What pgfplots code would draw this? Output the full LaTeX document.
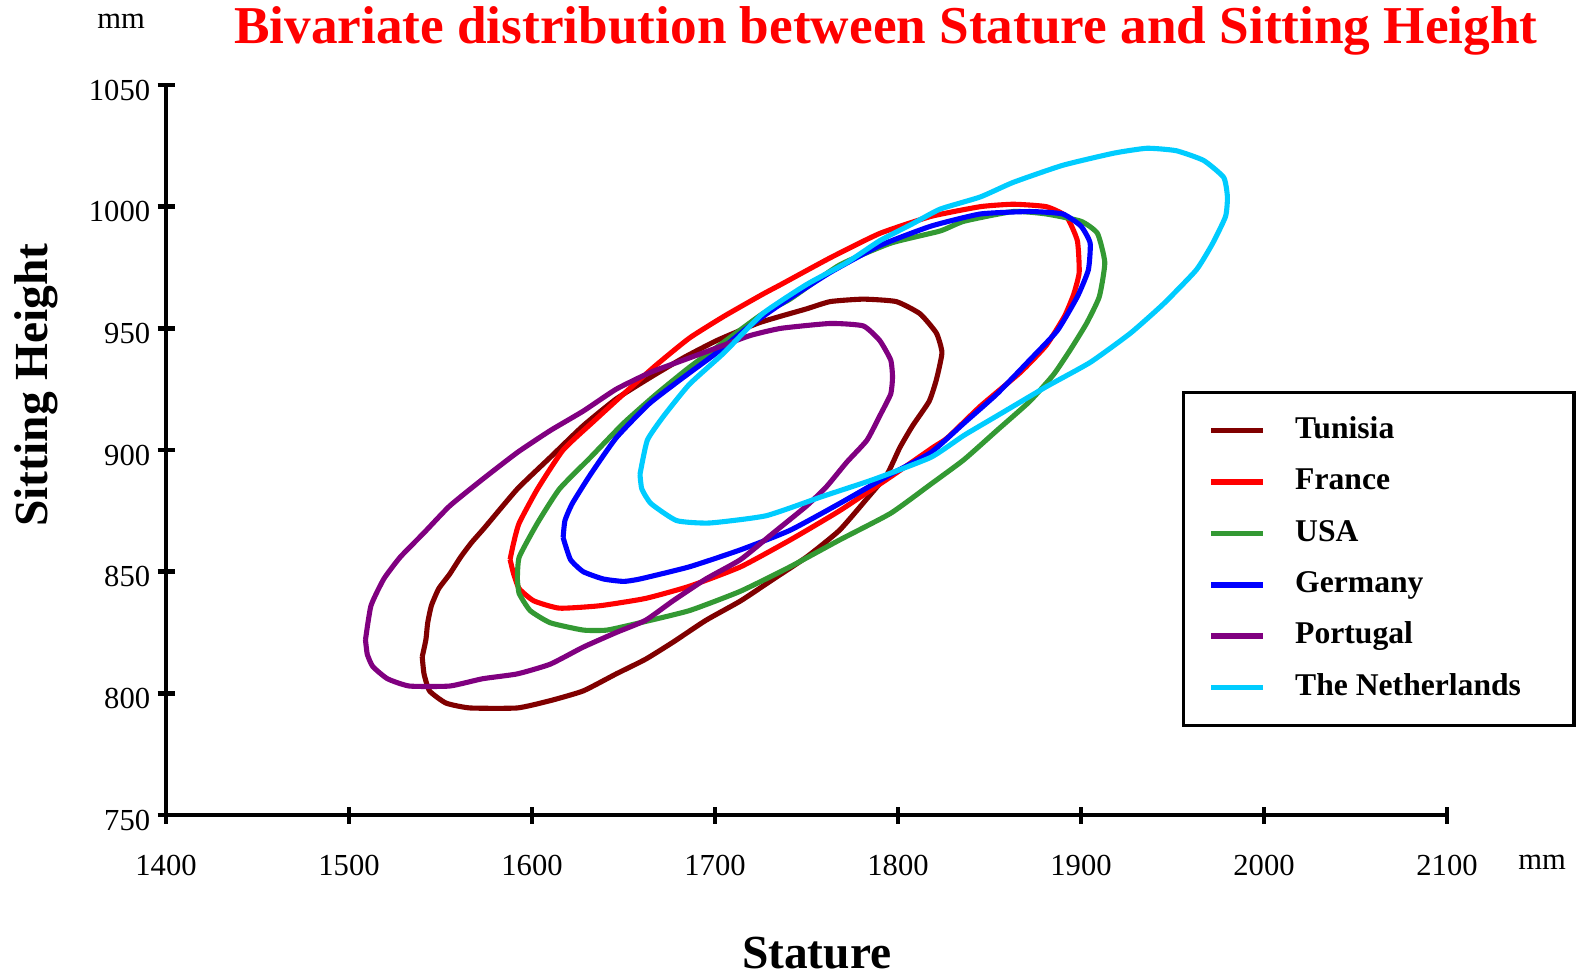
\documentclass[border=0pt]{standalone}
\usepackage{fontspec}
\setmainfont{Liberation Serif}
\usepackage{pgfplots}
\pgfplotsset{compat=1.18}

\definecolor{tunisia}{HTML}{800000}
\definecolor{france}{HTML}{FF0000}
\definecolor{usa}{HTML}{339933}
\definecolor{germany}{HTML}{0000FF}
\definecolor{portugal}{HTML}{800080}
\definecolor{nl}{HTML}{00CCFF}

\begin{document}
\begin{tikzpicture}
\begin{axis}[
  scale only axis, width=128.1mm, height=73mm,
  xmin=1400, xmax=2100, ymin=750, ymax=1050,
  axis x line=bottom, axis y line=left,
  axis line style={-, line width=1.3pt},
  xtick={1400,1500,...,2100}, ytick={750,800,...,1050},
  tick align=center, major tick length=1.7mm,
  tick style={black, line width=1.3pt},
  tick label style={font=\fontsize{8.7}{10}\selectfont},
  /pgf/number format/assume math mode=true,
  /pgf/number format/1000 sep={},
  scaled ticks=false,
  xticklabel style={yshift=-1.9mm},
  yticklabel style={xshift=0.5mm, yshift=-0.5mm},
  clip=false,
  legend style={at={(0.793,0.581)}, anchor=north west, draw=black, line width=1pt,
    inner xsep=2.5mm, inner ysep=2.3mm, row sep=2.15mm,
    font=\bfseries\fontsize{9}{11}\selectfont,
    nodes={inner sep=0pt, text height=6.5pt, text depth=2pt},
    /tikz/every odd column/.append style={column sep=2.9mm}},
  legend cell align=left,
  legend image code/.code={\draw[#1, line width=1.6pt] (0mm,0mm) -- (5.2mm,0mm);},
  every axis plot/.append style={line width=1.45pt, line join=round, smooth, tension=0.3},
]
% Tunisia
\addplot[tunisia] coordinates {
(1540,815)(1542,822)(1543,829)(1545,836)(1549,843)(1555,849)(1561,856)(1567,862)
(1574,868)(1592,884)(1610,897)(1628,910)(1646,921)(1665,930)(1683,938)(1701,945)
(1723,952)(1736,955)(1750,958)(1763,961)(1781,962)(1799,961)(1812,956)(1821,948)
(1824,940)(1821,929)(1817,920)(1808,910)(1801,901)(1794,890)(1783,880)(1768,867)
(1750,856)(1732,847)(1714,838)(1695,830)(1677,821)(1662,814)(1646,808)(1628,801)
(1610,797)(1592,794)(1566,794)(1553,796)(1544,801)(1541,808)(1540,815)};
% France
\addplot[france] coordinates {
(1588,855)(1590,862)(1593,870)(1603,884)(1617,900)(1634,912)(1650,923)(1668,935)
(1686,946)(1705,955)(1726,964)(1736,968)(1763,979)(1790,989)(1818,996)(1845,1000)
(1863,1001)(1881,1000)(1892,996)(1898,986)(1899,973)(1896,964)(1891,955)(1881,943)
(1867,932)(1845,918)(1827,905)(1819,901)(1796,889)(1768,875)(1741,863)(1714,852)
(1686,844)(1662,839)(1637,836)(1615,835)(1601,838)(1593,843)(1590,849)(1588,855)};
% USA
\addplot[usa] coordinates {
(1592,847)(1593,856)(1603,870)(1615,884)(1632,897)(1650,911)(1668,923)(1686,934)
(1706,945)(1726,956)(1741,962)(1768,976)(1796,985)(1823,990)(1836,994)(1863,998)
(1881,997)(1900,994)(1909,989)(1913,977)(1910,963)(1903,952)(1894,941)(1885,931)
(1872,920)(1854,908)(1836,896)(1818,886)(1796,874)(1768,863)(1741,852)(1714,842)
(1686,834)(1659,829)(1641,826)(1628,826)(1610,829)(1599,834)(1593,841)(1592,847)};
% Germany
\addplot[germany] coordinates {
(1617,864)(1618,871)(1622,878)(1632,890)(1646,905)(1664,919)(1683,930)(1701,940)
(1719,951)(1736,960)(1763,973)(1790,984)(1818,992)(1845,997)(1872,998)(1890,997)
(1900,992)(1905,985)(1904,974)(1898,963)(1887,949)(1872,937)(1854,923)(1836,911)
(1818,899)(1796,890)(1768,878)(1741,867)(1714,859)(1686,852)(1659,847)(1650,846)
(1639,847)(1628,850)(1621,855)(1617,864)};
% Portugal
\addplot[portugal] coordinates {
(1509,822)(1512,836)(1519,847)(1528,856)(1541,866)(1555,877)(1573,888)(1592,899)
(1610,908)(1628,916)(1646,925)(1665,932)(1683,937)(1701,942)(1719,947)(1736,950)
(1763,952)(1781,951)(1790,945)(1796,937)(1797,930)(1796,923)(1790,914)(1783,904)
(1772,895)(1761,885)(1750,877)(1732,866)(1714,855)(1695,847)(1677,838)(1662,830)
(1646,825)(1628,819)(1610,812)(1592,808)(1573,806)(1555,803)(1533,803)(1521,806)
(1513,811)(1510,816)(1509,822)};
% The Netherlands
\addplot[nl] coordinates {
(1659,890)(1663,904)(1672,914)(1686,927)(1705,940)(1726,956)(1750,968)(1772,977)
(1790,986)(1808,993)(1823,999)(1845,1004)(1863,1010)(1890,1017)(1918,1022)(1936,1024)
(1952,1023)(1967,1019)(1978,1012)(1980,1004)(1979,996)(1972,985)(1963,974)(1945,960)
(1927,948)(1905,936)(1881,926)(1854,914)(1836,906)(1818,897)(1787,888)(1759,881)
(1728,873)(1697,870)(1679,871)(1665,878)(1660,884)(1659,890)};
\legend{Tunisia, France, USA, Germany, Portugal, The Netherlands\hspace{2.8mm}\mbox{}}

\node[font=\bfseries\fontsize{15.15}{18}\selectfont, text=red, anchor=base]
  at (rel axis cs:0.562,1.0575) {Bivariate distribution between Stature and Sitting Height};
\node[font=\fontsize{8.7}{10}\selectfont, anchor=base] at (rel axis cs:-0.0351,1.078) {mm};
\node[font=\fontsize{8.7}{10}\selectfont, anchor=base] at (rel axis cs:1.0742,-0.0753) {mm};
\node[font=\bfseries\fontsize{13.5}{16}\selectfont, anchor=base] at (rel axis cs:0.508,-0.2096) {Stature};
\node[font=\bfseries\fontsize{13.5}{16}\selectfont, rotate=90, anchor=base]
  at (rel axis cs:-0.0929,0.589) {Sitting Height};
\coordinate (bbsw) at (rel axis cs:-0.12959,-0.22055);
\coordinate (bbne) at (rel axis cs:1.10461,1.11644);
\end{axis}
\pgfresetboundingbox
\path[use as bounding box] (bbsw) rectangle (bbne);
\end{tikzpicture}
\end{document}
